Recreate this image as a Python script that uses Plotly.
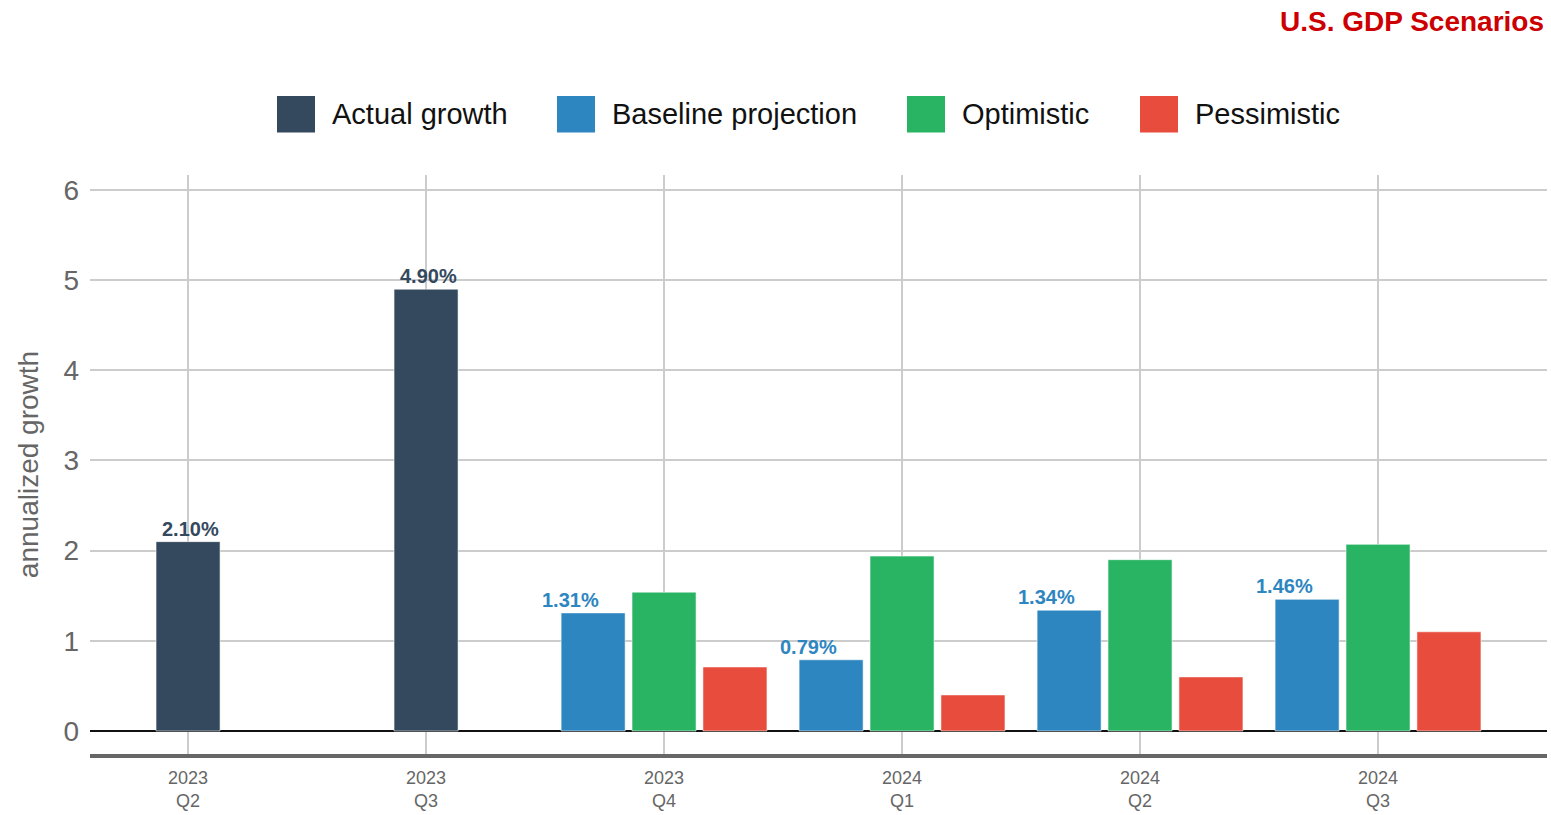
import plotly.graph_objects as go

# ---- data ----
quarters = ["2023<br>Q2", "2023<br>Q3", "2023<br>Q4", "2024<br>Q1", "2024<br>Q2", "2024<br>Q3"]
actual_quarters = quarters[:2]
actual_growth = [2.10, 4.90]
proj_quarters = quarters[2:]
baseline = [1.31, 0.79, 1.34, 1.46]
optimistic = [1.54, 1.94, 1.90, 2.07]
pessimistic = [0.71, 0.40, 0.60, 1.10]
series_names = ["Actual growth", "Baseline projection", "Optimistic", "Pessimistic"]
colors = ["#34495e", "#2e86c1", "#28b463", "#e74c3c"]

BW = 0.269
STEP = 0.298
FONT = "Liberation Sans, Arial, sans-serif"
edge = dict(color="rgba(255,255,255,0.55)", width=1)

fig = go.Figure()
fig.add_trace(go.Bar(x=actual_quarters, y=actual_growth, name=series_names[0],
                     marker=dict(color=colors[0], line=edge), width=BW, offset=-BW / 2))
fig.add_trace(go.Bar(x=proj_quarters, y=baseline, name=series_names[1],
                     marker=dict(color=colors[1], line=edge), width=BW, offset=-STEP - BW / 2))
fig.add_trace(go.Bar(x=proj_quarters, y=optimistic, name=series_names[2],
                     marker=dict(color=colors[2], line=edge), width=BW, offset=-BW / 2))
fig.add_trace(go.Bar(x=proj_quarters, y=pessimistic, name=series_names[3],
                     marker=dict(color=colors[3], line=edge), width=BW, offset=STEP - BW / 2))

annotations = []
for q, v in zip(actual_quarters, actual_growth):
    annotations.append(dict(x=q, y=v, xref="x", yref="y", text=f"{v:.2f}%", showarrow=False,
                            yanchor="bottom", xanchor="center", xshift=2, yshift=0,
                            font=dict(family=FONT, size=20, color=colors[0], weight="bold")))
for i, (q, v) in enumerate(zip(proj_quarters, baseline)):
    annotations.append(dict(x=i + 2 - STEP, y=v, xref="x", yref="y", text=f"{v:.2f}%", showarrow=False,
                            yanchor="bottom", xanchor="center", xshift=-23, yshift=0,
                            font=dict(family=FONT, size=20, color=colors[1], weight="bold")))

W, H = 1551, 815
ML, MR, MT, MB = 90, 4, 175, 54
pw, ph = W - ML - MR, H - MT - MB

# title
annotations.append(dict(x=1, y=1, xref="paper", yref="paper", xanchor="right", yanchor="middle",
                        text="<b>U.S. GDP Scenarios</b>", showarrow=False, xshift=-1, yshift=MT - 21,
                        font=dict(family=FONT, size=28, color="#cc0000")))

# custom legend (large square swatches)
swatch_x = [277, 557, 907, 1140]
shapes = []
for name, col, sx in zip(series_names, colors, swatch_x):
    x0 = (sx - ML) / pw
    x1 = (sx + 38 - ML) / pw
    y0 = (H - MB - 132) / ph
    y1 = (H - MB - 95) / ph
    shapes.append(dict(type="rect", xref="paper", yref="paper", x0=x0, x1=x1, y0=y0, y1=y1,
                       fillcolor=col, line=dict(width=0), layer="above"))
    annotations.append(dict(x=(sx + 53 - ML) / pw, y=(H - MB - 113.5) / ph, xref="paper", yref="paper",
                            xanchor="left", yanchor="middle", text=name, showarrow=False,
                            font=dict(family=FONT, size=29, color="#111111")))

fig.update_layout(
    width=W, height=H,
    margin=dict(l=ML, r=MR, t=MT, b=MB, pad=0),
    barmode="overlay",
    plot_bgcolor="white", paper_bgcolor="white",
    showlegend=False,
    font=dict(family=FONT),
    annotations=annotations,
    shapes=shapes,
    xaxis=dict(type="category", categoryorder="array", categoryarray=quarters,
               range=[-0.412, 5.71],
               showgrid=True, gridcolor="#cccccc", gridwidth=2,
               showline=True, linecolor="#666666", linewidth=4,
               ticks="", tickfont=dict(family=FONT, size=18, color="#666666"),
               ticklabelstandoff=4),
    yaxis=dict(range=[-0.255, 6.166], dtick=1, tick0=0,
               showgrid=True, gridcolor="#cccccc", gridwidth=1.5,
               zeroline=True, zerolinecolor="#111111", zerolinewidth=2,
               showline=False, ticks="",
               tickfont=dict(family=FONT, size=28, color="#666666"),
               ticklabelstandoff=10,
               title=dict(text="annualized growth", standoff=16,
                          font=dict(family=FONT, size=28, color="#666666"))),
)

fig.write_html("out.html", config={"displayModeBar": False},
               post_script="document.body.style.margin='0px';document.body.style.overflow='hidden';")
